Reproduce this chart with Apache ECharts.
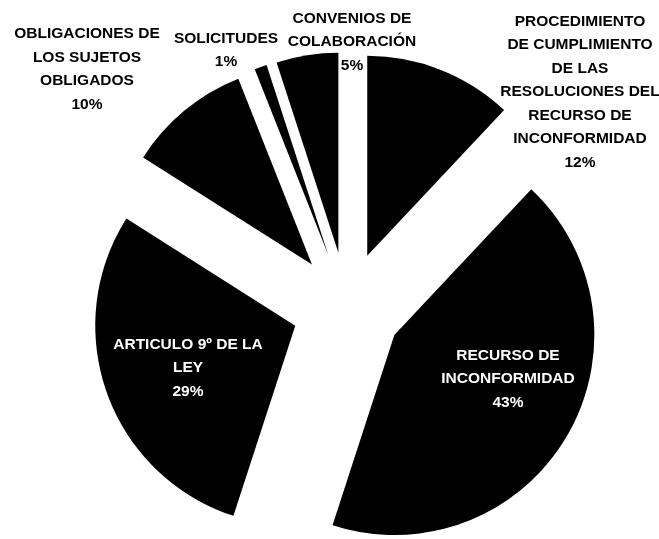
<!DOCTYPE html>
<html>
<head>
<meta charset="utf-8">
<script src="https://cdn.jsdelivr.net/npm/echarts@6/dist/echarts.min.js"></script>
<style>
  html, body { margin: 0; padding: 0; background: #ffffff; }
  #chart { width: 659px; height: 539px; }
</style>
</head>
<body>
<div id="chart"></div>
<script>
// Categories (label text as wrapped in the original chart)
const categories = [
  'PROCEDIMIENTO\nDE CUMPLIMIENTO\nDE LAS\nRESOLUCIONES DEL\nRECURSO DE\nINCONFORMIDAD',
  'RECURSO DE\nINCONFORMIDAD',
  'ARTICULO 9º DE LA\nLEY',
  'OBLIGACIONES DE\nLOS SUJETOS\nOBLIGADOS',
  'SOLICITUDES',
  'CONVENIOS DE\nCOLABORACIÓN'
];
// Percent values
const values = [12, 43, 29, 10, 1, 5];

// Label placement (layout only)
const labelAnchors = [
  [580, 92], [508, 379], [188, 368], [87, 69], [226, 50], [352, 42]
];
const insideLabel = [false, true, true, false, false, false];

const chart = echarts.init(document.getElementById('chart'), null, { renderer: 'canvas' });

const pieCenter = [347, 307];
const pieRadius = [0, 200];

const sliceData = categories.map((name, i) => ({
  name: name,
  value: values[i],
  selected: true
}));

const labelData = categories.map((name, i) => ({
  name: name,
  value: values[i],
  label: {
    color: insideLabel[i] ? '#ffffff' : '#000000'
  }
}));

chart.setOption({
  animation: false,
  backgroundColor: '#ffffff',
  series: [{
    type: 'pie',
    center: pieCenter,
    radius: pieRadius,
    startAngle: 90,
    clockwise: true,
    selectedMode: 'multiple',
    selectedOffset: 55,
    silent: true,
    emphasis: { disabled: true },
    itemStyle: { color: '#000000', borderWidth: 0 },
    label: { show: false },
    labelLine: { show: false },
    data: sliceData
  }, {
    type: 'pie',
    center: pieCenter,
    radius: pieRadius,
    startAngle: 90,
    clockwise: true,
    selectedMode: false,
    silent: true,
    z: 5,
    emphasis: { disabled: true },
    itemStyle: { color: 'rgba(0,0,0,0)', borderWidth: 0 },
    label: {
      show: true,
      formatter: '{b}\n{c}%',
      fontFamily: 'Liberation Sans, Arial, sans-serif',
      fontWeight: 'bold',
      fontSize: 15.5,
      lineHeight: 23.5,
      align: 'center',
      width: 240,
      overflow: 'none'
    },
    labelLine: { show: false },
    labelLayout: function (params) {
      const p = labelAnchors[params.dataIndex];
      return { x: p[0], y: p[1], align: 'center', verticalAlign: 'middle', hideOverlap: false };
    },
    data: labelData
  }]
});
</script>
</body>
</html>
